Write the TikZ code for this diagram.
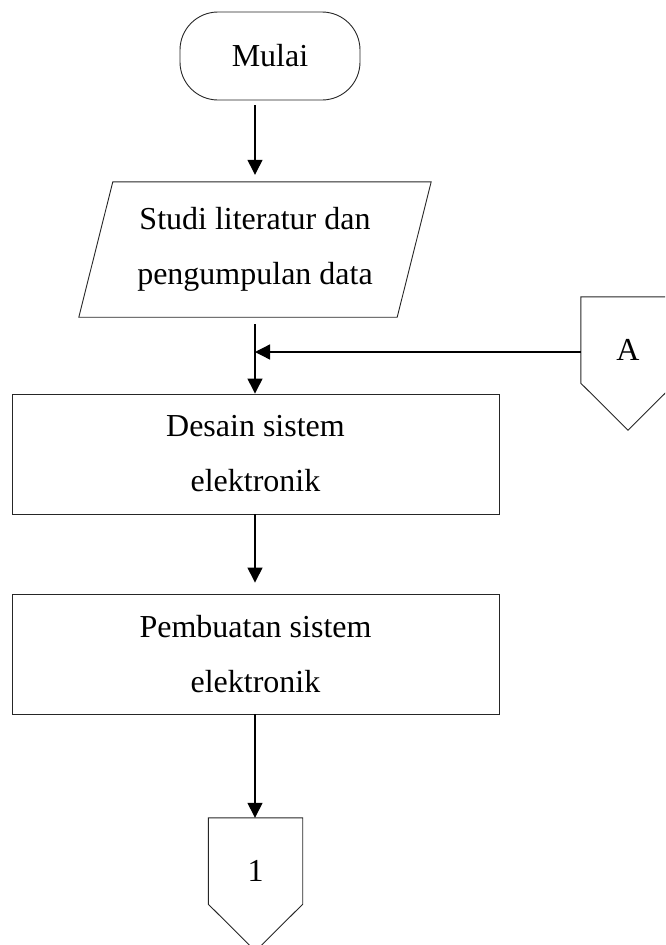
\documentclass[tikz,border=0pt]{standalone}
\usepackage{fontspec}
\setmainfont{Liberation Serif}
\usetikzlibrary{arrows.meta,calc}

\begin{document}
\begin{tikzpicture}[x=1pt,y=-1pt,
  every node/.style={font=\fontsize{32}{55}\selectfont,align=center,inner sep=0pt},
  outline/.style={draw=black!85,line width=0.9pt},
  terminal/.style={outline,rounded corners=38pt,minimum width=180pt,minimum height=88pt},
  process/.style={outline,minimum width=487pt,minimum height=120pt},
  offpage/.style={minimum width=94pt,minimum height=86pt},
  flow/.style={-{Triangle[length=15pt,width=15pt]},line width=1.3pt}]
\path[use as bounding box,clip] (0,0) rectangle (665,945);

\node[terminal] (mulai) at (270,56) {Mulai};
\node[minimum width=318pt,minimum height=135pt] (studi) at (255,249.5)
  {Studi literatur dan\\pengumpulan data};
\draw[outline] ($(studi.north west)+(17,0)$) -- ($(studi.north east)+(17,0)$)
  -- ($(studi.south east)+(-17,0)$) -- ($(studi.south west)+(-17,0)$) -- cycle;
\node[process] (desain) at (255.5,454) {Desain sistem\\elektronik};
\node[process] (buat) at (255.5,654) {Pembuatan sistem\\elektronik};

% off-page connectors
\node[offpage] (konA) at (628,340) {};
\node (konAtext) at ($(konA)+(0,10)$) {A};
\draw[outline] (konA.north west) -- (konA.north east) -- (konA.south east)
  -- ($(konA.south)+(0,47)$) -- (konA.south west) -- cycle;
\node[offpage] (kon1) at (255.5,861) {};
\node (kon1text) at ($(kon1)+(0,10)$) {1};
\draw[outline] (kon1.north west) -- (kon1.north east) -- (kon1.south east)
  -- ($(kon1.south)+(0,47)$) -- (kon1.south west) -- cycle;

\coordinate (gabung) at (255,352);
\coordinate (konAin) at (konA.west |- gabung);

\draw[flow,shorten <=5pt,shorten >=7pt] (gabung |- mulai.south) -- (gabung |- studi.north);
\draw[flow,shorten <=7pt] (gabung |- studi.south) -- (gabung |- desain.north);
\draw[flow] (konAin) -- (gabung);
\draw[flow,shorten >=11pt] (gabung |- desain.south) -- (gabung |- buat.north);
\draw[flow] (gabung |- buat.south) -- (gabung |- kon1.north);
\end{tikzpicture}
\end{document}
